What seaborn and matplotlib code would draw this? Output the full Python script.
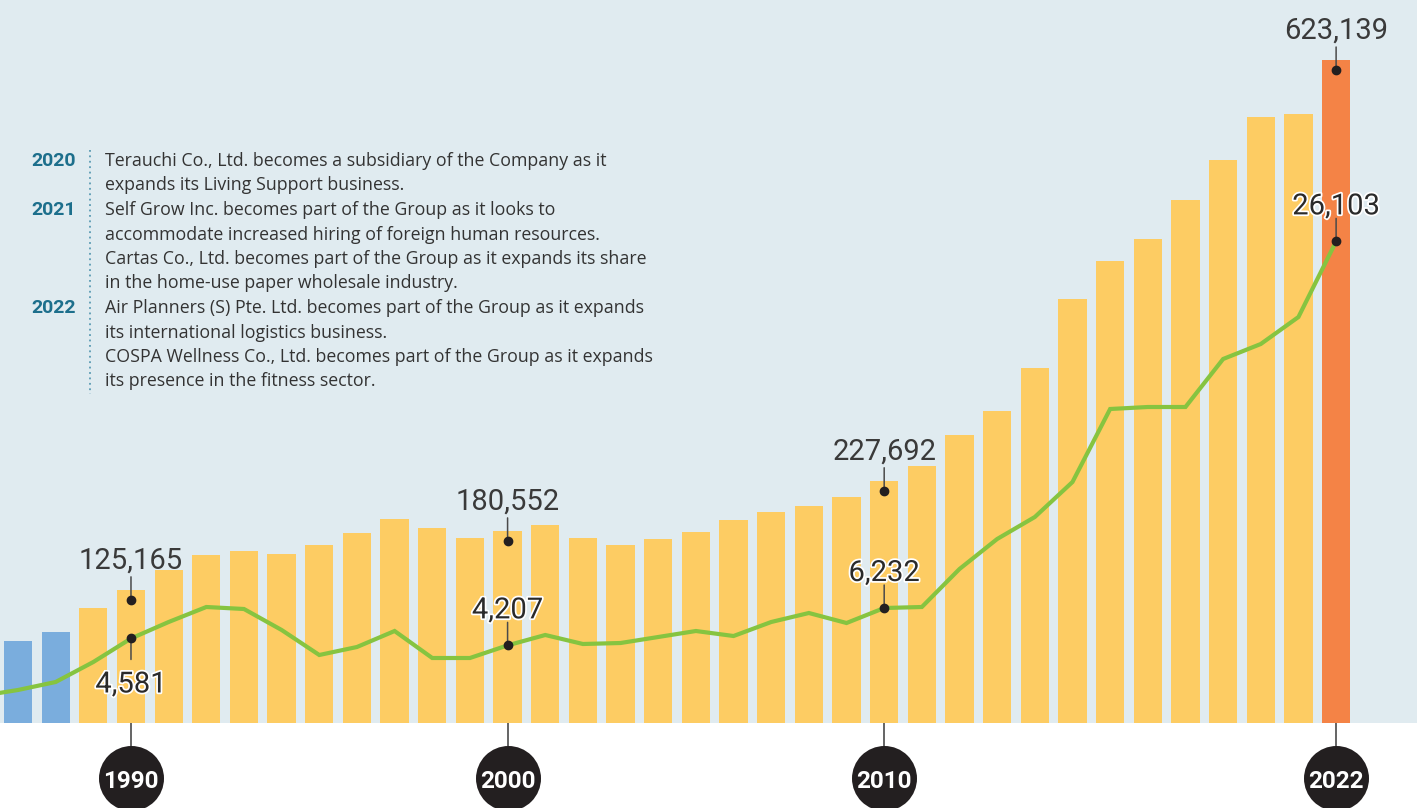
import matplotlib
matplotlib.use("Agg")
import matplotlib.pyplot as plt
import matplotlib.patheffects as pe
from matplotlib.transforms import offset_copy
import pandas as pd
import seaborn as sns

# ---- data -------------------------------------------------------------
years = list(range(1987, 2023))
net_sales = [77072, 85531, 108089, 125165, 143805, 157903, 161663, 158843, 167302,
             178581, 191740, 183281, 173882, 180552, 186100, 173882, 167302, 172942,
             179521, 190800, 198319, 203958, 212417, 227692, 241554, 270691, 293249,
             333665, 398518, 434234, 454912, 491568, 529164, 569579, 572399, 623139]
bar_group = ["early"] * 2 + ["growth"] * 33 + ["latest"]

income_years = list(range(1986, 2023))
ordinary_income = [1463, 1789, 2222, 3306, 4581, 5474, 6287, 6179, 5041, 3686,
                   4119, 4986, 3523, 3523, 4207, 4770, 4282, 4336, 4661, 4986,
                   4715, 5474, 5962, 5420, 6232, 6287, 8347, 9973, 11165, 13062,
                   17019, 17127, 17127, 19729, 20542, 22005, 26103]

milestone_years = [1990, 2000, 2010, 2022]
income_label_above = [False, True, True, True]

history_lines = [
    ("2020", "Terauchi Co., Ltd. becomes a subsidiary of the Company as it"),
    ("", "expands its Living Support business."),
    ("2021", "Self Grow Inc. becomes part of the Group as it looks to"),
    ("", "accommodate increased hiring of foreign human resources."),
    ("", "Cartas Co., Ltd. becomes part of the Group as it expands its share"),
    ("", "in the home-use paper wholesale industry."),
    ("2022", "Air Planners (S) Pte. Ltd. becomes part of the Group as it expands"),
    ("", "its international logistics business."),
    ("", "COSPA Wellness Co., Ltd. becomes part of the Group as it expands"),
    ("", "its presence in the fitness sector."),
]

# ---- style ------------------------------------------------------------
sns.set_style("white")
plt.rcParams["font.family"] = ["Roboto", "DejaVu Sans"]

BG = "#e0ebf0"
palette = {"early": "#7aaddd", "growth": "#fdcc63", "latest": "#f48346"}
GREEN = "#86c440"
INK = "#231f20"
STEM = "#4a4a4a"
TEAL = "#1d6f8c"

W, H = 1417, 808
BASE = 85  # height of the white band under the plot, in pixels

fig = plt.figure(figsize=(W / 100, H / 100), dpi=100, facecolor="white")
ax = fig.add_axes([0, BASE / H, 1, 1 - BASE / H])
ax_b = fig.add_axes([0, 0, 1, BASE / H], sharex=ax)
ax.set_facecolor(BG)

df = pd.DataFrame({"year": years, "sales": net_sales, "group": bar_group})
sns.barplot(data=df, x="year", y="sales", hue="group", palette=palette,
            hue_order=["early", "growth", "latest"], native_scale=True,
            width=0.75, dodge=False, legend=False, errorbar=None,
            saturation=1, linewidth=0, ax=ax)

ax.set_xlim(1986.522, 2024.148)
ax.set_ylim(0, 723 * 939.9)

ax2 = ax.twinx()
sns.lineplot(x=income_years, y=ordinary_income, ax=ax2, color=GREEN,
             linewidth=3.0, solid_joinstyle="miter", solid_capstyle="butt")
ax2.set_ylim(0, 723 * 54.2)

for a in (ax, ax2, ax_b):
    for s in a.spines.values():
        s.set_visible(False)
    a.set_xticks([])
    a.set_yticks([])
    a.set_xlabel("")
    a.set_ylabel("")

sales_map = dict(zip(years, net_sales))
income_map = dict(zip(income_years, ordinary_income))


def callout(axis, x, v, dot_dy, stem_len, text_dy, text, halo):
    anchor = offset_copy(axis.transData, fig=fig, x=0, y=dot_dy, units="dots")
    axis.annotate("", xy=(x, v), xycoords=anchor, xytext=(0, stem_len),
                  textcoords="offset pixels",
                  arrowprops=dict(arrowstyle="-", color=STEM, lw=1.1,
                                  shrinkA=0, shrinkB=0), zorder=5)
    axis.plot([x], [v], marker="o", markersize=6, color=INK, transform=anchor,
              zorder=6, clip_on=False)
    t = axis.annotate(text, xy=(x, v), xycoords=anchor, xytext=(0, text_dy),
                      textcoords="offset pixels", ha="center", va="baseline",
                      color="#2a2a2a" if halo else "#3a3a3a", zorder=7,
                      family=["Roboto", "DejaVu Sans"], fontsize=21,
                      fontweight="normal")
    if halo:
        t.set_path_effects([pe.withStroke(linewidth=2.5, foreground="white")])


for yr, above in zip(milestone_years, income_label_above):
    v = sales_map[yr]
    callout(ax, yr, v, -10, 23, 31, f"{v:,}", halo=False)
    iv = income_map[yr]
    if above:
        callout(ax2, yr, iv, 0, 23, 27, f"{iv:,}", halo=True)
    else:
        callout(ax2, yr, iv, 0, -21, -54, f"{iv:,}", halo=True)

# ---- year markers below the baseline ----------------------------------
ax_b.set_ylim(0, BASE)
ax_b.vlines(milestone_years, 30, BASE, color=STEM, lw=1.2, zorder=1)
ax_b.scatter(milestone_years, [30] * len(milestone_years), s=(65 * 0.72) ** 2,
             color=INK, zorder=2, linewidths=0)
for yr in milestone_years:
    ax_b.text(yr, 29, str(yr), ha="center", va="center_baseline", color="white",
              fontsize=17.5, fontweight="bold", zorder=3)
ax_b.set_facecolor("white")

# ---- history notes ----------------------------------------------------
def fx(px):
    return px / W


def fy(py):
    return 1 - py / H


for i, (yr_label, line) in enumerate(history_lines):
    base = 166 + i * 24.5
    if yr_label:
        fig.text(fx(31), fy(base), yr_label, ha="left", va="baseline", color=TEAL,
                 fontsize=14, fontweight="bold", family=["Roboto", "DejaVu Sans"])
    fig.text(fx(105), fy(base), line, ha="left", va="baseline", color="#333333",
             fontsize=12.8, family=["Open Sans", "DejaVu Sans"])

fig.add_artist(plt.Line2D([fx(90), fx(90)], [fy(150), fy(394)], color="#5b9bb3",
                          lw=1.3, linestyle=(0, (1, 2))))

fig.savefig("out.png", dpi=100, facecolor="white")
